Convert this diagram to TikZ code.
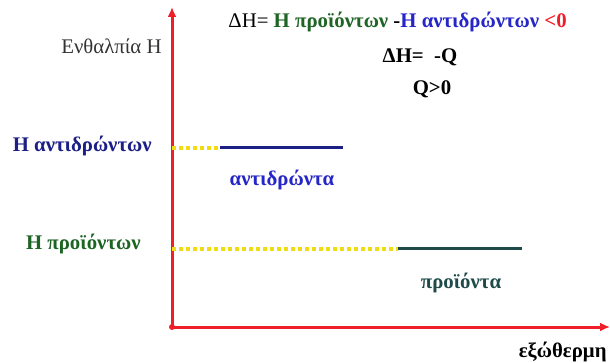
\documentclass[tikz,border=0pt]{standalone}
\usepackage{fontspec}
\setmainfont{Liberation Serif}
\usetikzlibrary{arrows.meta,positioning}
\definecolor{AxisRed}{HTML}{F01E28}
\definecolor{GuideYellow}{HTML}{F0DC10}
\definecolor{ReactNavy}{HTML}{1C1F86}
\definecolor{ReactBlue}{HTML}{2626C8}
\definecolor{ProdGreen}{HTML}{1E6424}
\definecolor{ProdSlate}{HTML}{1F4A4A}
\definecolor{TextGray}{HTML}{333333}

\begin{document}
\begin{tikzpicture}[
      x=0.5pt, y=-0.5pt,
      axis/.style={draw=AxisRed, line width=1.5pt, -{Latex[length=5pt,width=4.5pt]}},
      level/.style={line width=1.5pt},
      guide/.style={draw=GuideYellow, line width=1.6pt, dash pattern=on 1.9pt off 1.6pt},
      lbl/.style={font=\fontsize{10.4}{12}\selectfont\bfseries, inner sep=0pt}
    ]
      \useasboundingbox (0,0) rectangle (610,363);
      % axes
      \coordinate (O) at (172,327);
      \coordinate (ytip) at (172,7);
      \coordinate (xtip) at (610,327);
      \draw[axis] (O) -- (ytip);
      \draw[axis] (O) -- (xtip);
      \fill[AxisRed] (O) circle (3);
      \node[inner sep=0pt, font=\fontsize{10.4}{12}\selectfont, text=TextGray, anchor=east] (enth) at (162,46) {Ενθαλπία Η};
      \node[lbl, text=black, anchor=east] (exo) at (607,352) {εξώθερμη};

      % energy levels
      \coordinate (ry) at (172,148);
      \coordinate (ra) at (220,148);
      \coordinate (rb) at (343,148);
      \coordinate (py) at (172,249);
      \coordinate (pa) at (398,249);
      \coordinate (pb) at (522,249);
      \draw[guide] (ry) -- (ra);
      \draw[level, ReactNavy] (ra) -- (rb);
      \draw[guide] (py) -- (pa);
      \draw[level, ProdSlate] (pa) -- (pb);

      \node[lbl, text=ReactNavy, anchor=east] (hreact) at (152,146) {Η αντιδρώντων};
      \node[lbl, text=ReactBlue] (react) at (282,180) {αντιδρώντα};
      \node[lbl, text=ProdGreen, anchor=east] (hprod) at (141,244) {Η προϊόντων};
      \node[lbl, text=ProdSlate] (prod) at (461,283) {προϊόντα};

      % relations
      \node[lbl, anchor=west] (dh) at (228,22) {\mdseries ΔΗ= \bfseries\textcolor{ProdGreen}{Η προϊόντων} -\textcolor{ReactBlue}{Η αντιδρώντων} \textcolor{AxisRed}{<0}};
      \node[lbl] (dhq) at (420,57) {ΔΗ=~ -Q};
      \node[lbl] (qpos) at (432,89) {Q>0};
    \end{tikzpicture}
\end{document}
